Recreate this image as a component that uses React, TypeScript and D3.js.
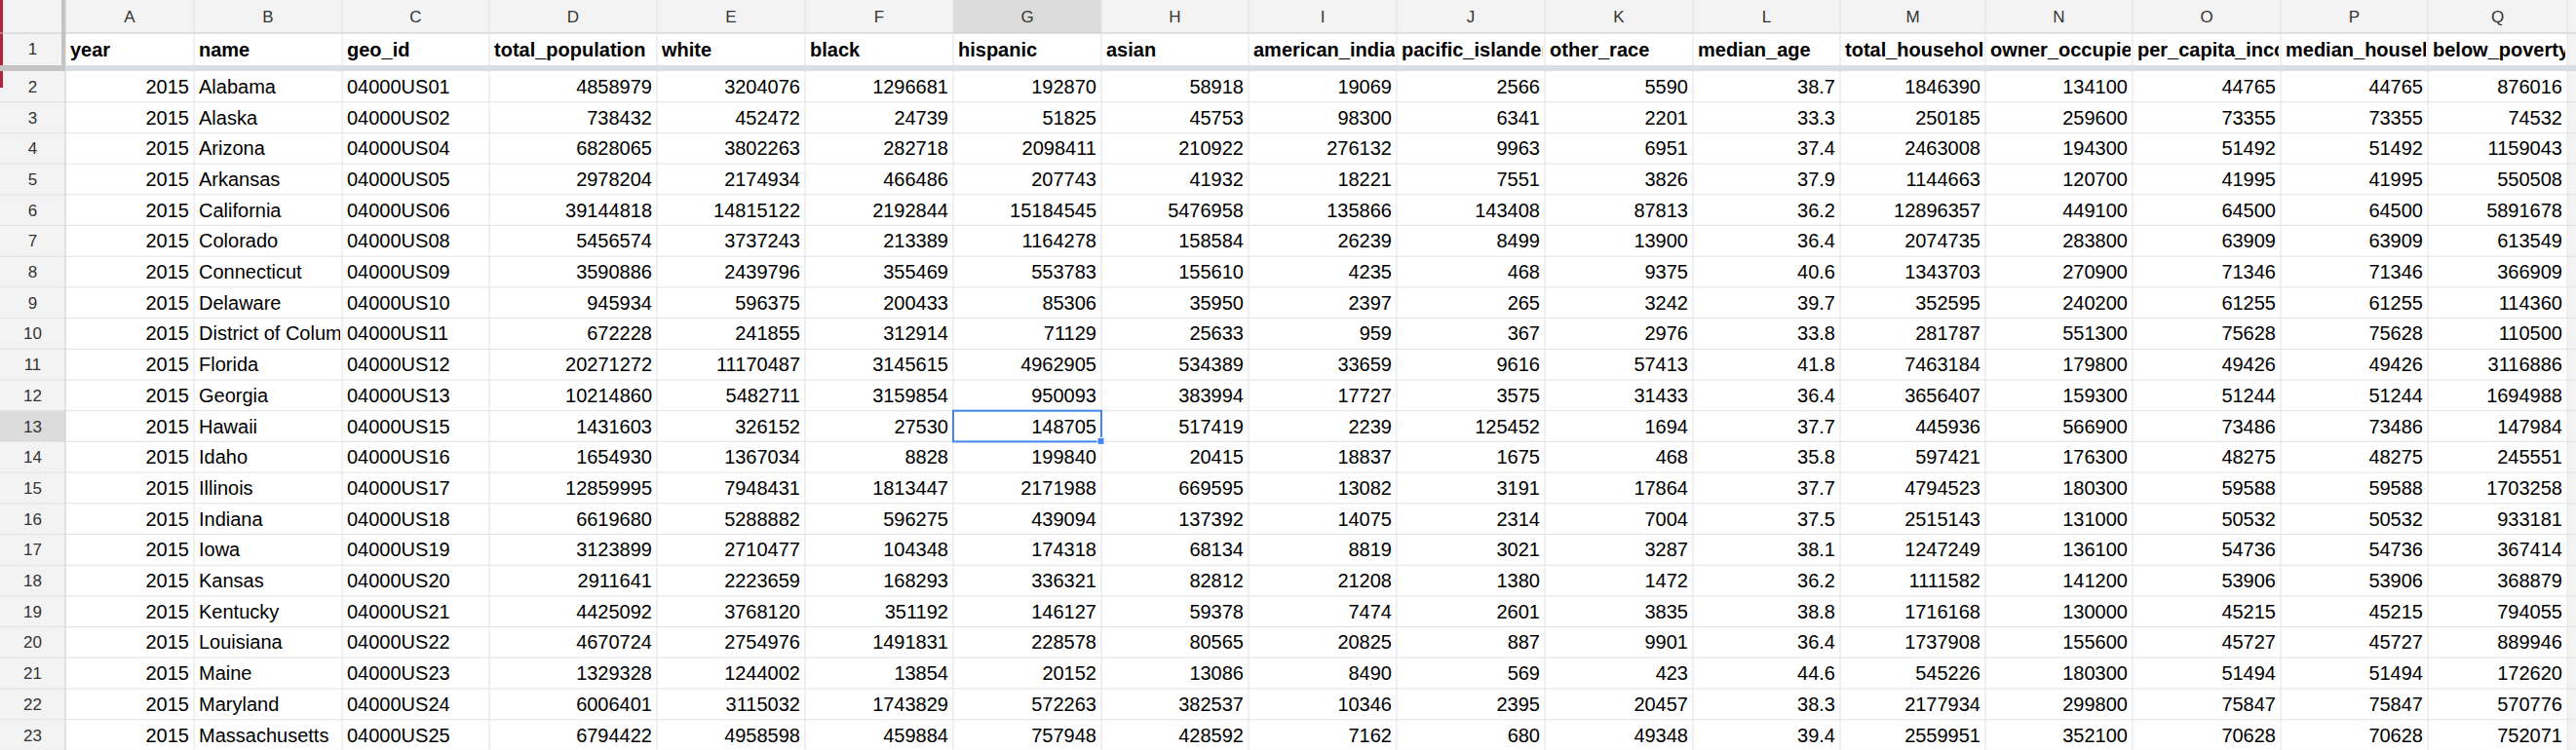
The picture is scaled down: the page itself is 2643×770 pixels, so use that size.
import React from 'react';
import * as d3 from 'd3';

const columnLetters = ['A', 'B', 'C', 'D', 'E', 'F', 'G', 'H', 'I', 'J', 'K', 'L', 'M', 'N', 'O', 'P', 'Q'];
const headers = ['year', 'name', 'geo_id', 'total_population', 'white', 'black', 'hispanic', 'asian',
  'american_indian', 'pacific_islander', 'other_race', 'median_age', 'total_households',
  'owner_occupied_housing_value', 'per_capita_income', 'median_household_income', 'below_poverty_line'];

const states = ['Alabama', 'Alaska', 'Arizona', 'Arkansas', 'California', 'Colorado', 'Connecticut', 'Delaware',
  'District of Columbia', 'Florida', 'Georgia', 'Hawaii', 'Idaho', 'Illinois', 'Indiana', 'Iowa', 'Kansas',
  'Kentucky', 'Louisiana', 'Maine', 'Maryland', 'Massachusetts'];
const geoIds = ['01', '02', '04', '05', '06', '08', '09', '10', '11', '12', '13', '15', '16', '17', '18', '19', '20',
  '21', '22', '23', '24', '25'];
const totalPopulation = [4858979, 738432, 6828065, 2978204, 39144818, 5456574, 3590886, 945934, 672228, 20271272,
  10214860, 1431603, 1654930, 12859995, 6619680, 3123899, 2911641, 4425092, 4670724, 1329328, 6006401, 6794422];
const white = [3204076, 452472, 3802263, 2174934, 14815122, 3737243, 2439796, 596375, 241855, 11170487, 5482711,
  326152, 1367034, 7948431, 5288882, 2710477, 2223659, 3768120, 2754976, 1244002, 3115032, 4958598];
const black = [1296681, 24739, 282718, 466486, 2192844, 213389, 355469, 200433, 312914, 3145615, 3159854, 27530,
  8828, 1813447, 596275, 104348, 168293, 351192, 1491831, 13854, 1743829, 459884];
const hispanic = [192870, 51825, 2098411, 207743, 15184545, 1164278, 553783, 85306, 71129, 4962905, 950093, 148705,
  199840, 2171988, 439094, 174318, 336321, 146127, 228578, 20152, 572263, 757948];
const asian = [58918, 45753, 210922, 41932, 5476958, 158584, 155610, 35950, 25633, 534389, 383994, 517419, 20415,
  669595, 137392, 68134, 82812, 59378, 80565, 13086, 382537, 428592];
const americanIndian = [19069, 98300, 276132, 18221, 135866, 26239, 4235, 2397, 959, 33659, 17727, 2239, 18837,
  13082, 14075, 8819, 21208, 7474, 20825, 8490, 10346, 7162];
const pacificIslander = [2566, 6341, 9963, 7551, 143408, 8499, 468, 265, 367, 9616, 3575, 125452, 1675, 3191, 2314,
  3021, 1380, 2601, 887, 569, 2395, 680];
const otherRace = [5590, 2201, 6951, 3826, 87813, 13900, 9375, 3242, 2976, 57413, 31433, 1694, 468, 17864, 7004,
  3287, 1472, 3835, 9901, 423, 20457, 49348];
const medianAge = ['38.7', '33.3', '37.4', '37.9', '36.2', '36.4', '40.6', '39.7', '33.8', '41.8', '36.4', '37.7',
  '35.8', '37.7', '37.5', '38.1', '36.2', '38.8', '36.4', '44.6', '38.3', '39.4'];
const totalHouseholds = [1846390, 250185, 2463008, 1144663, 12896357, 2074735, 1343703, 352595, 281787, 7463184,
  3656407, 445936, 597421, 4794523, 2515143, 1247249, 1111582, 1716168, 1737908, 545226, 2177934, 2559951];
const ownerOccupied = [134100, 259600, 194300, 120700, 449100, 283800, 270900, 240200, 551300, 179800, 159300,
  566900, 176300, 180300, 131000, 136100, 141200, 130000, 155600, 180300, 299800, 352100];
const perCapitaIncome = [44765, 73355, 51492, 41995, 64500, 63909, 71346, 61255, 75628, 49426, 51244, 73486, 48275,
  59588, 50532, 54736, 53906, 45215, 45727, 51494, 75847, 70628];
const medianHousehold = perCapitaIncome;
const belowPoverty = [876016, 74532, 1159043, 550508, 5891678, 613549, 366909, 114360, 110500, 3116886, 1694988,
  147984, 245551, 1703258, 933181, 367414, 368879, 794055, 889946, 172620, 570776, 752071];

const rows: (string | number)[][] = states.map((s, i) => [
  2015, s, `04000US${geoIds[i]}`, totalPopulation[i], white[i], black[i], hispanic[i], asian[i],
  americanIndian[i], pacificIslander[i], otherRace[i], medianAge[i], totalHouseholds[i], ownerOccupied[i],
  perCapitaIncome[i], medianHousehold[i], belowPoverty[i],
]);

const W = 2643;
const H = 770;
const colWidths = [132, 152, 151, 172, 152, 152, 152, 151, 152, 152, 152, 151, 149, 151, 152, 151, 143];
const rowHeaderW = 67;
const edges = [rowHeaderW, ...Array.from(d3.cumsum(colWidths), (c) => rowHeaderW + c)];
const colHeaderH = 34;
const headerRowH = 33;
const freezeH = 6;
const rowH = 31.7;
const bodyTop = colHeaderH + headerRowH + freezeH;
const y = d3.scaleLinear().domain([0, 1]).range([bodyTop, bodyTop + rowH]);

const selCol = 6;
const selRow = 11;
const font = '"Liberation Sans", Arial, sans-serif';
const grid = '#e2e2e2';

export default function App() {
  const nRows = rows.length;
  return (
    <svg width={W} height={H} style={{ position: 'absolute', left: 0, top: 0, background: '#fff' }}
      fontFamily={font} fontSize={20}>
      <defs>
        {edges.slice(0, -1).map((x0, c) => (
          <clipPath id={`clip${c}`} key={c}>
            <rect x={x0 + 2} y={0} width={edges[c + 1] - x0 - 4} height={H} />
          </clipPath>
        ))}
        <clipPath id="clipName">
          <rect x={edges[1] + 2} y={0} width={edges[2] - edges[1] - 4} height={H} />
        </clipPath>
      </defs>
      {/* column header strip */}
      <rect x={0} y={0} width={W} height={colHeaderH} fill="#f3f3f3" />
      <rect x={edges[selCol]} y={0} width={edges[selCol + 1] - edges[selCol]} height={colHeaderH} fill="#dcdcdc" />
      {/* row header strip */}
      <rect x={0} y={0} width={rowHeaderW} height={H} fill="#f3f3f3" />
      <rect x={0} y={y(selRow)} width={rowHeaderW} height={rowH} fill="#dcdcdc" />
      {/* right edge */}
      <rect x={edges[edges.length - 1]} y={0} width={W - edges[edges.length - 1]} height={H} fill="#f3f3f3" />
      <rect x={0} y={0} width={3} height={90} fill="#b3243a" />

      {/* horizontal grid lines */}
      <line x1={0} x2={W} y1={colHeaderH} y2={colHeaderH} stroke="#c8c8c8" />
      {d3.range(nRows + 1).map((i) => (
        <line key={i} x1={0} x2={W} y1={y(i)} y2={y(i)} stroke={i === 0 ? 'none' : grid} />
      ))}
      {/* vertical grid lines */}
      {edges.map((x, i) => (
        <line key={i} x1={x} x2={x} y1={0} y2={H} stroke={i === 0 ? '#c8c8c8' : grid} />
      ))}
      <rect x={rowHeaderW - 4} y={0} width={4} height={bodyTop} fill="#c4c4c4" />
      {/* freeze bar */}
      <rect x={0} y={colHeaderH + headerRowH} width={W} height={freezeH} fill="#dadde4" />
      <rect x={0} y={colHeaderH + headerRowH} width={rowHeaderW} height={freezeH} fill="#c4c4c4" />

      {/* column letters */}
      {columnLetters.map((l, c) => (
        <text key={l} x={(edges[c] + edges[c + 1]) / 2} y={colHeaderH / 2} dy="0.35em" textAnchor="middle"
          fontSize={17} fill="#333">{l}</text>
      ))}
      {/* row numbers */}
      <text x={rowHeaderW / 2} y={colHeaderH + headerRowH / 2} dy="0.35em" textAnchor="middle" fontSize={17} fill="#333">1</text>
      {rows.map((_, i) => (
        <text key={i} x={rowHeaderW / 2} y={y(i) + rowH / 2} dy="0.35em" textAnchor="middle" fontSize={17}
          fill="#333">{i + 2}</text>
      ))}
      {/* header row */}
      {headers.map((h, c) => (
        <text key={h} x={edges[c] + 5} y={colHeaderH + headerRowH / 2} dy="0.35em" fontWeight="bold"
          clipPath={`url(#clip${c})`}>{h}</text>
      ))}
      {/* body */}
      {rows.map((r, i) => r.map((v, c) => {
        const left = typeof v === 'string' && c !== 11;
        return (
          <text key={`${i}-${c}`} x={left ? edges[c] + 5 : edges[c + 1] - 5} y={y(i) + rowH / 2} dy="0.35em"
            textAnchor={left ? 'start' : 'end'} clipPath={`url(#clip${c})`}>{v}</text>
        );
      }))}
      {/* selection */}
      <rect x={edges[selCol]} y={y(selRow)} width={edges[selCol + 1] - edges[selCol]} height={rowH}
        fill="none" stroke="#4285f4" strokeWidth={2} />
      <rect x={edges[selCol + 1] - 4} y={y(selRow + 1) - 4} width={7} height={7} fill="#4285f4" stroke="#fff" />
    </svg>
  );
}
